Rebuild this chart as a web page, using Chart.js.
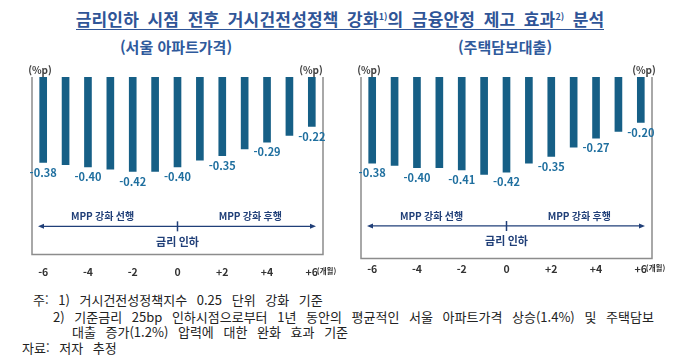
<!DOCTYPE html>
<html lang="ko">
  <head>
    <meta charset="utf-8" />
    <title>금리인하 시점 전후 거시건전성정책 강화 효과</title>
    <style>
      body {
        margin: 0;
        width: 680px;
        height: 361px;
        background: #fff;
        position: relative;
        overflow: hidden;
        font-family: "Noto Sans CJK KR", "Noto Sans", sans-serif;
      }
      .abs { position: absolute; white-space: pre; }
      #title {
        left: 0; top: 9px; width: 680px; text-align: center;
        font-size: 17px; font-weight: bold; color: #2f5597; line-height: 20px;
        word-spacing: 3.5px; letter-spacing: 0.2px;
      }
      #title span { border-bottom: 1.5px solid #2f5597; display: inline-block; line-height: 20px; }
      #title sup { font-size: 9px; vertical-align: 6px; line-height: 0; letter-spacing: 0; }
      .sub { font-size: 15px; font-weight: bold; color: #2f5a9c; line-height: 18px; transform: translateX(-50%); }
      .note { font-size: 13px; color: #222; line-height: 16px; word-spacing: 6px; }
      canvas { position: absolute; }
    </style>
  </head>
  <body>
    <div id="title" class="abs"><span>금리인하 시점 전후 거시건전성정책 강화<sup>1)</sup>의 금융안정 제고 효과<sup>2)</sup> 분석</span></div>
    <div class="abs sub" style="left: 176px; top: 38px">(서울 아파트가격)</div>
    <div class="abs sub" style="left: 505px; top: 38px">(주택담보대출)</div>

    <canvas id="leftChart" width="340" height="235" style="left: 0; top: 55px"></canvas>
    <canvas id="rightChart" width="340" height="235" style="left: 340px; top: 55px"></canvas>

    <div class="abs note" style="left: 33px; top: 292px">주: 1) 거시건전성정책지수 0.25 단위 강화 기준</div>
    <div class="abs note" style="left: 53px; top: 309px">2) 기준금리 25bp 인하시점으로부터 1년 동안의 평균적인 서울 아파트가격 상승(1.4%) 및 주택담보</div>
    <div class="abs note" style="left: 72px; top: 324px">대출 증가(1.2%) 압력에 대한 완화 효과 기준</div>
    <div class="abs note" style="left: 22px; top: 340px">자료: 저자 추정</div>

    <script src="https://cdn.jsdelivr.net/npm/chart.js/dist/chart.umd.min.js"></script>
    <script>
      // months relative to the rate cut
      const months = ["-6", "-5", "-4", "-3", "-2", "-1", "0", "+1", "+2", "+3", "+4", "+5", "+6"];
      // effect in %p
      const seoulApt = [-0.38, -0.39, -0.40, -0.41, -0.42, -0.42, -0.40, -0.37, -0.35, -0.32, -0.29, -0.26, -0.22];
      const mortgage = [-0.38, -0.39, -0.40, -0.40, -0.41, -0.43, -0.42, -0.38, -0.35, -0.31, -0.27, -0.24, -0.20];
      const unitLabel = "(%p)";
      const monthUnit = "(개월)";
      const leadText = "MPP 강화 선행";
      const lagText = "MPP 강화 후행";
      const cutText = "금리 인하";

      const FONT = "'Noto Sans CJK KR', sans-serif";
      const NAVY = "#203f78";

      const decor = {
        id: "decor",
        afterDatasetsDraw(chart, args, opts) {
          const { ctx, chartArea: a, scales } = chart;
          const x = scales.x, y = scales.y;
          ctx.save();

          // box (left, bottom, right)
          ctx.strokeStyle = "#8c8c8c";
          ctx.lineWidth = 1.5;
          ctx.beginPath();
          ctx.moveTo(a.left, a.top);
          ctx.lineTo(a.left, a.bottom);
          ctx.lineTo(a.right, a.bottom);
          ctx.lineTo(a.right, a.top);
          ctx.stroke();

          // unit labels
          ctx.fillStyle = "#404040";
          ctx.font = "bold 10px " + FONT;
          ctx.textAlign = "center";
          ctx.textBaseline = "middle";
          ctx.fillText(unitLabel, a.left + 8, a.top - 7);
          ctx.fillText(unitLabel, a.right - opts.unitRight, a.top - 7);

          // value labels under every other bar
          const meta = chart.getDatasetMeta(0);
          const vals = chart.data.datasets[0].data;
          ctx.fillStyle = "#1f6f9f";
          ctx.font = "bold 11px " + FONT;
          meta.data.forEach((bar, i) => {
            if (i % 2) return;
            ctx.fillText(vals[i].toFixed(2), bar.x, bar.y + 10);
          });

          // timeline arrow
          const ay = y.getPixelForValue(opts.arrowAt);
          const x0 = a.left + 6, x1 = a.right - 7;
          ctx.strokeStyle = NAVY;
          ctx.fillStyle = NAVY;
          ctx.lineWidth = 1.3;
          ctx.beginPath();
          ctx.moveTo(x0 + 3, ay);
          ctx.lineTo(x1 - 3, ay);
          ctx.stroke();
          ctx.beginPath();
          ctx.moveTo(x0, ay); ctx.lineTo(x0 + 6, ay - 2.5); ctx.lineTo(x0 + 6, ay + 2.5); ctx.closePath();
          ctx.moveTo(x1, ay); ctx.lineTo(x1 - 6, ay - 2.5); ctx.lineTo(x1 - 6, ay + 2.5); ctx.closePath();
          ctx.fill();
          const cx = x.getPixelForValue(6);
          ctx.lineWidth = 1.5;
          ctx.beginPath();
          ctx.moveTo(cx, ay - 5);
          ctx.lineTo(cx, ay + 5);
          ctx.stroke();

          ctx.font = "bold 10px " + FONT;
          ctx.fillText(leadText, x.getPixelForValue(2.65), ay - 10);
          ctx.fillText(lagText, x.getPixelForValue(9.25), ay - 10);
          ctx.font = "bold 11px " + FONT;
          ctx.fillText(cutText, cx, ay + 15);

          // month unit after last tick label
          const lastX = x.getPixelForTick(x.ticks.length - 1);
          ctx.fillStyle = "#333";
          ctx.font = "bold 7.5px " + FONT;
          ctx.textAlign = "left";
          ctx.fillText(monthUnit, lastX + 5, x.top + opts.tickGap + 6);
          ctx.restore();
        },
      };

      function makeChart(id, values, yMin, pad, arrowAt, unitRight, tickGap) {
        return new Chart(document.getElementById(id), {
          type: "bar",
          data: {
            labels: months,
            datasets: [
              {
                data: values,
                backgroundColor: "#165f86",
                barThickness: 7,
              },
            ],
          },
          options: {
            responsive: false,
            animation: false,
            layout: { padding: pad },
            scales: {
              x: {
                offset: true,
                grid: { display: false, drawTicks: false },
                border: { display: false },
                ticks: {
                  padding: tickGap,
                  maxRotation: 0,
                  autoSkip: false,
                  color: "#333",
                  font: { family: FONT, size: 10.5, weight: "bold" },
                  callback: (v, i) => (i % 2 ? "" : months[i]),
                },
              },
              y: { display: false, min: yMin, max: 0 },
            },
            plugins: {
              legend: { display: false },
              tooltip: { enabled: false },
              decor: { arrowAt: arrowAt, unitRight: unitRight, tickGap: tickGap },
            },
          },
          plugins: [decor],
        });
      }

      makeChart("leftChart", seoulApt, -0.79, { left: 32, right: 17, top: 22, bottom: 1 }, -0.665, 12, 11);
      makeChart("rightChart", mortgage, -0.8, { left: 21, right: 28, top: 22, bottom: 11 }, -0.657, 8, 4);
    </script>
  </body>
</html>
